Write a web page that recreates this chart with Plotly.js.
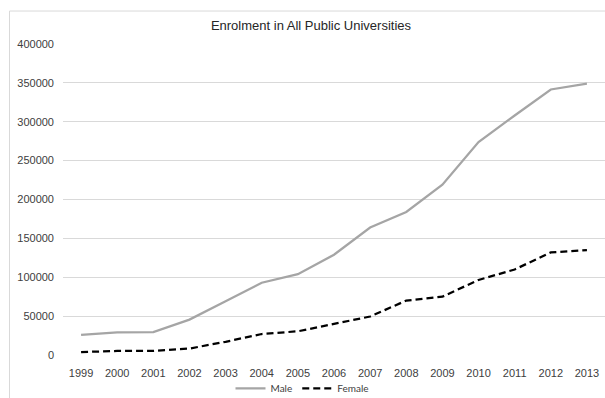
<!DOCTYPE html>
<html>
<head>
<meta charset="utf-8">
<script src="https://cdn.plot.ly/plotly-3.0.1.min.js"></script>
<style>
html,body{margin:0;padding:0;background:#fff;}
#chart{width:605px;height:398px;}
</style>
</head>
<body>
<div id="chart"></div>
<script>
var years = ["1999","2000","2001","2002","2003","2004","2005","2006","2007","2008","2009","2010","2011","2012","2013"];
var male = [26000, 29000, 29500, 45500, 69000, 93000, 104000, 129000, 164000, 184000, 219000, 274000, 308000, 341500, 349000];
var female = [3800, 5200, 5400, 8300, 17000, 27000, 30500, 40000, 49500, 70000, 75000, 96500, 110000, 132000, 135000];
var yTicks = [0, 50000, 100000, 150000, 200000, 250000, 300000, 350000, 400000];

var traces = [
  {x: years, y: male, name: "Male", type: "scatter", mode: "lines",
   line: {color: "#A5A5A5", width: 2.25}},
  {x: years, y: female, name: "Female", type: "scatter", mode: "lines",
   line: {color: "#000000", width: 2.25, dash: "7px,4px"}}
];

var tickFont = {family: "Liberation Sans, Arial, sans-serif", size: 11, color: "#404040"};

var layout = {
  width: 605, height: 398,
  margin: {l: 63, r: 0, t: 44, b: 43},
  paper_bgcolor: "#ffffff", plot_bgcolor: "#ffffff",
  font: {family: "Liberation Sans, Arial, sans-serif", size: 11, color: "#404040"},
  title: {text: "Enrolment in All Public Universities", font: {size: 13, color: "#262626"},
          xref: "container", yref: "container", x: 0.514, y: 0.935, xanchor: "center", yanchor: "middle"},
  xaxis: {type: "category", range: [-0.5, 14.5], showgrid: false, zeroline: false,
          showline: false, ticks: "", ticklabelstandoff: 10, fixedrange: true, tickfont: tickFont},
  yaxis: {range: [0, 400000], tickvals: yTicks, ticktext: yTicks.map(String),
          showgrid: true, gridcolor: "#D9D9D9", gridwidth: 1, zeroline: false,
          showline: false, ticks: "", ticklabelstandoff: 8, fixedrange: true, tickfont: tickFont},
  showlegend: true,
  legend: {orientation: "h", xref: "container", yref: "container", x: 0.5, xanchor: "center",
           y: 0.024, yanchor: "middle",
           font: {family: "Lato, Liberation Sans, sans-serif", size: 10, color: "#404040"},
           itemwidth: 30, tracegroupgap: 0, bgcolor: "rgba(0,0,0,0)"},
  shapes: [
    {type: "rect", xref: "paper", yref: "paper", x0: -0.0987, x1: 1.2, y0: -0.3, y1: 1.106,
     line: {color: "#D9D9D9", width: 1}, fillcolor: "rgba(0,0,0,0)", layer: "below"}
  ]
};

Plotly.newPlot("chart", traces, layout, {displayModeBar: false, staticPlot: true});
</script>
</body>
</html>
